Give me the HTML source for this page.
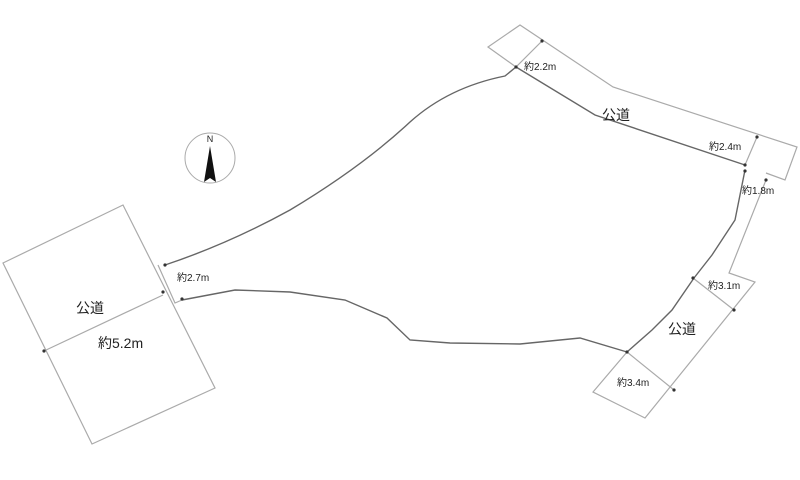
<!DOCTYPE html>
<html><head><meta charset="utf-8"><style>
html,body{margin:0;padding:0;background:#fff;width:800px;height:480px;overflow:hidden}
text{font-family:"Liberation Sans","Noto Sans CJK JP",sans-serif;fill:#222}
</style></head><body>
<svg width="800" height="480" viewBox="0 0 800 480" xmlns="http://www.w3.org/2000/svg">
<g fill="none" stroke="#aaa" stroke-width="1.2">
<!-- left road -->
<polygon points="3,263 123,205 215,388 92,444"/>
<line x1="44" y1="351" x2="163" y2="295"/>
<polyline points="158,265 175,303 182,300"/>
<!-- top road -->
<polyline points="516,67 488,47 520,25 613,87 797,147 785,180 766,173"/>
<line x1="542" y1="41" x2="516" y2="67"/>
<line x1="757" y1="137" x2="745" y2="165"/>
<!-- right strip + lower road -->
<polyline points="766,180 729,273 755,282 645,418 593,392 627,352"/>
<line x1="693" y1="278" x2="734" y2="310"/>
<line x1="627" y1="352" x2="674" y2="390"/>
</g>
<g fill="none" stroke="#666" stroke-width="1.4">
<path d="M165,265 C210,250 250,232 290,210 C340,180 380,150 410,122 C440,95 475,82 505,76 L516,67 L595,115 L745,165"/>
<polyline points="745,170 735,220 712,255 694,278 672,310 652,330 627,352"/>
<polyline points="182,300 235,290 290,292 345,300 387,318 410,340 450,343 520,344 580,338 627,352"/>
</g>
<g fill="#333">
<circle cx="165" cy="265" r="1.6"/><circle cx="163" cy="292" r="1.6"/><circle cx="182" cy="299" r="1.6"/>
<circle cx="44" cy="351" r="1.6"/>
<circle cx="542" cy="41" r="1.6"/><circle cx="516" cy="67" r="1.6"/>
<circle cx="757" cy="137" r="1.6"/><circle cx="745" cy="165" r="1.6"/><circle cx="745" cy="171" r="1.6"/><circle cx="766" cy="180" r="1.6"/>
<circle cx="693" cy="278" r="1.6"/><circle cx="734" cy="310" r="1.6"/>
<circle cx="627" cy="352" r="1.6"/><circle cx="674" cy="390" r="1.6"/>
</g>
<!-- compass -->
<circle cx="210" cy="158" r="25" fill="none" stroke="#aaa" stroke-width="1"/>
<polygon points="210,146 204,182 210,178 216,182" fill="#111"/>
<text x="210" y="142" font-size="9" text-anchor="middle" font-family="Liberation Serif">N</text>
<g font-size="10">
<text x="524" y="70">約2.2m</text>
<text x="709" y="150">約2.4m</text>
<text x="742" y="194">約1.8m</text>
<text x="708" y="289">約3.1m</text>
<text x="617" y="386">約3.4m</text>
<text x="177" y="281">約2.7m</text>
</g>
<g font-size="14">
<text x="602" y="120">公道</text>
<text x="668" y="334">公道</text>
<text x="76" y="313">公道</text>
<text x="98" y="348">約5.2m</text>
</g>
</svg>
</body></html>
